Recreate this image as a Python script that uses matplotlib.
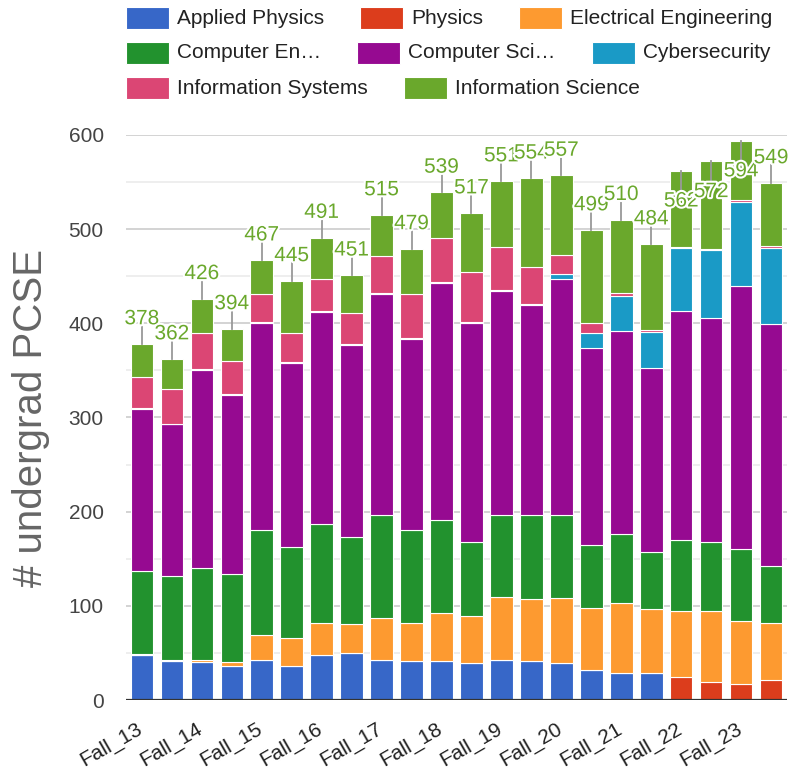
import numpy as np
import matplotlib.pyplot as plt
from matplotlib.patches import Rectangle
import matplotlib.patheffects as pe
import matplotlib.transforms as mtransforms

plt.rcParams['font.family'] = ['Liberation Sans', 'DejaVu Sans']

# === data ===
terms = ['Fall_13', 'Spring_14', 'Fall_14', 'Spring_15', 'Fall_15', 'Spring_16',
         'Fall_16', 'Spring_17', 'Fall_17', 'Spring_18', 'Fall_18', 'Spring_19',
         'Fall_19', 'Spring_20', 'Fall_20', 'Spring_21', 'Fall_21', 'Spring_22',
         'Fall_22', 'Spring_23', 'Fall_23', 'Spring_24']

applied_physics = [48, 41, 40, 36, 43, 36, 48, 50, 43, 41, 41, 39, 43, 41, 39, 32, 29, 29, 0, 0, 0, 0]
physics = [0, 0, 0, 0, 0, 0, 0, 0, 0, 0, 0, 0, 0, 0, 0, 0, 0, 0, 24, 19, 17, 21]
electrical_eng = [1, 2, 2, 4, 26, 30, 34, 31, 44, 41, 51, 50, 66, 66, 69, 66, 74, 68, 71, 76, 67, 61]
computer_eng = [88, 89, 98, 94, 112, 96, 105, 92, 109, 99, 99, 79, 87, 89, 88, 67, 73, 60, 75, 73, 76, 60]
computer_sci = [172, 161, 210, 190, 219, 196, 225, 204, 235, 202, 252, 232, 238, 223, 251, 209,
                216, 196, 243, 238, 280, 257]
cybersecurity = [1, 0, 1, 1, 1, 1, 1, 1, 1, 1, 1, 1, 1, 2, 5, 16, 37, 38, 67, 72, 89, 81]
info_systems = [33, 37, 39, 35, 30, 31, 34, 33, 39, 47, 47, 54, 46, 39, 21, 10, 3, 2, 1, 1, 2, 2]
info_science = [35, 32, 36, 34, 36, 55, 44, 40, 44, 48, 48, 62, 70, 94, 84, 99, 78, 91, 81, 93, 63, 67]

series = [applied_physics, physics, electrical_eng, computer_eng,
          computer_sci, cybersecurity, info_systems, info_science]
legend_labels = ['Applied Physics', 'Physics', 'Electrical Engineering', 'Computer En\u2026',
                 'Computer Sci\u2026', 'Cybersecurity', 'Information Systems', 'Information Science']
colors = ['#3767c8', '#dc3d1c', '#fd9a30', '#22922e', '#960a91', '#1a9ac6', '#db4674', '#6aa82c']

# === figure ===
W, H = 790, 772
fig = plt.figure(figsize=(W / 100, H / 100), dpi=100)
ax = fig.add_axes([126 / W, 1 - 700 / H, 661 / W, 565 / H])

x = np.arange(len(terms))
bottom = np.zeros(len(terms))
for vals, col in zip(series, colors):
    vals = np.array(vals, dtype=float)
    ax.bar(x, vals, bottom=bottom, width=0.75, color=col, edgecolor='white', linewidth=0.8, zorder=3)
    bottom += vals
totals = bottom

# total labels (flip inside the bar when there's no room above)
ax.set_ylim(0, 600)
ax.set_xlim(-0.53, len(terms) - 0.47)
halo = [pe.withStroke(linewidth=3, foreground='white')]
for i, t in enumerate(totals):
    if t + 40 <= 600:
        ax.plot([i, i], [t, t + 19], color='#999999', lw=1.3, zorder=4, clip_on=False)
        ax.text(i, t + 21, f'{int(t)}', ha='center', va='baseline', fontsize=15,
                color='#6aa82c', path_effects=halo, zorder=5, clip_on=False)
    else:
        ax.plot([i, i], [t, t - 27], color='#999999', lw=1.3, zorder=4)
        ax.text(i, t - 22, f'{int(t)}', ha='center', va='top', fontsize=15,
                color='#6aa82c', path_effects=halo, zorder=5)

# grid
ax.set_yticks(np.arange(0, 601, 100))
ax.set_yticks(np.arange(50, 600, 100), minor=True)
ax.grid(axis='y', which='major', color='#cccccc', lw=1.2, zorder=0)
ax.grid(axis='y', which='minor', color='#ebebeb', lw=1.2, zorder=0)
ax.axhline(0, color='#333333', lw=1.6, zorder=4)
for s in ax.spines.values():
    s.set_visible(False)

ax.tick_params(axis='y', which='both', length=0, pad=16, labelsize=15, labelcolor='#444444')
ax.set_xticks(x[::2])
ax.set_xticklabels(terms[::2], rotation=30, ha='right', va='top', rotation_mode='anchor',
                   fontsize=15, color='#222222')
ax.tick_params(axis='x', length=0, pad=14)
shift = mtransforms.ScaledTranslation(-4 / 72, 0, fig.dpi_scale_trans)
for lab in ax.get_xticklabels():
    lab.set_transform(lab.get_transform() + shift)

fig.text(31 / W, 1 - 418 / H, '# undergrad PCSE', rotation=90, ha='center', va='center',
         fontsize=29, color='#666666')

# legend, laid out in rows like the original
rows = [[0, 1, 2], [3, 4, 5], [6, 7]]
row_y = [18, 53, 88]
fig.canvas.draw()
renderer = fig.canvas.get_renderer()
for row, yc in zip(rows, row_y):
    xp = 126
    for k in row:
        fig.add_artist(Rectangle((xp / W, 1 - (yc + 11) / H), 43 / W, 22 / H,
                                 transform=fig.transFigure, facecolor=colors[k],
                                 edgecolor='white', lw=0.8))
        txt = fig.text((xp + 51) / W, 1 - yc / H, legend_labels[k], ha='left', va='center',
                       fontsize=15, color='#222222')
        bb = txt.get_window_extent(renderer)
        xp = bb.x1 + 36

plt.savefig('out.png', dpi=100)
